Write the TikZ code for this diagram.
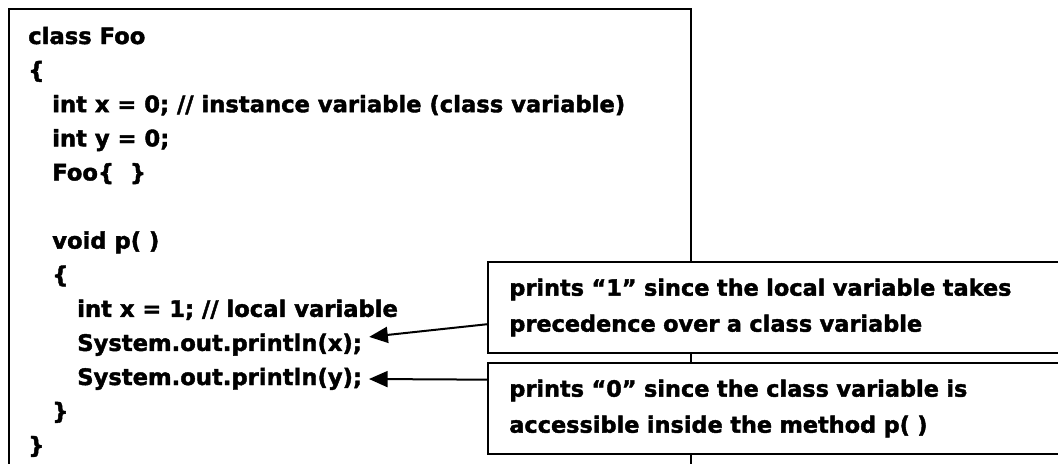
\documentclass[tikz,border=0pt]{standalone}
\usepackage{fontspec}
\setmainfont{DejaVu Sans}[BoldFeatures={FakeBold=1.8}]
\usetikzlibrary{arrows.meta,calc}

\tikzset{
  codeline/.style={anchor=west, inner sep=0pt, text height=13pt, text depth=4pt,
    font=\bfseries\fontsize{17}{20}\selectfont},
  notebox/.style={draw, fill=white, line width=1.5pt, anchor=north west, minimum height=68.25pt,
    text width=420pt, inner xsep=16pt, align=left,
    font=\bfseries\fontsize{16.8}{27}\selectfont},
  pointer/.style={line width=1.5pt, -{Triangle[length=14pt,width=12pt]}}
}

\begin{document}
\begin{tikzpicture}[x=0.75pt,y=0.75pt,yscale=-1,xscale=1]
\useasboundingbox (0,0) rectangle (1058,464);
\clip (0,0) rectangle (1058,464);

%Shape: Rectangle (code frame, runs past the bottom)
\draw [line width=1.5pt] (9,9) rectangle (691,490);

% Code lines
\node [codeline] (lclass)  at (28,38)    {class Foo};
\node [codeline] (lopen)   at (28,72.1)  {\{};
\node [codeline] (lx)      at (52,106.2) {int x = 0; // instance variable (class variable)};
\node [codeline] (ly)      at (52,140.3) {int y = 0;};
\node [codeline] (lctor)   at (52,174.4) {Foo\{\ \ \}};
\node [codeline] (lvoid)   at (52,242.6) {void p( )};
\node [codeline] (lopen2)  at (52,276.7) {\{};
\node [codeline] (llocal)  at (77,310.8) {int x = 1; // local variable};
\node [codeline] (lprintx) at (77,344.9) {System.out.println(x);};
\node [codeline] (lprinty) at (77,379)   {System.out.println(y);};
\node [codeline] (lclose2) at (52,413.1) {\}};
\node [codeline] (lclose)  at (28,447.2) {\}};

% Notes
\node [notebox] (nlocal) at (487,261) {prints “1” since the local variable takes\\precedence over a class variable};
\node [notebox] (nclass) at (487,362) {prints “0” since the class variable is\\accessible inside the method p( )};

% Arrows
\draw [pointer] ($(nlocal.north west)!0.68!(nlocal.south west)$) -- ([shift={(7,-8)}]lprintx.east);
\draw [pointer] ($(nclass.north west)!0.19!(nclass.south west)$) -- ([xshift=5pt]lprinty.east);

\end{tikzpicture}
\end{document}
